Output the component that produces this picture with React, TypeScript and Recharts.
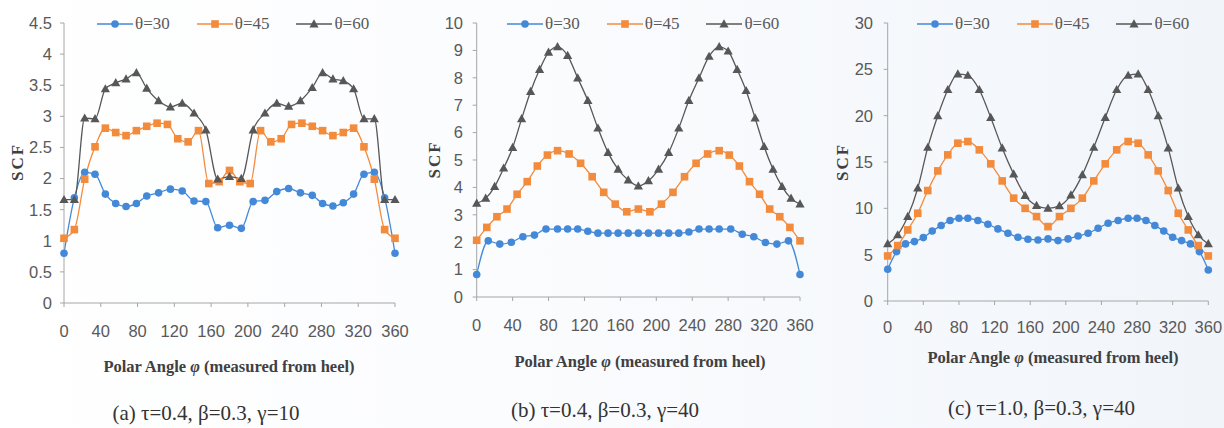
import React from "react";
import { LineChart, Line, XAxis, YAxis, Legend } from "recharts";

// polar angle sampling (deg); the three series were not all sampled on the same spacing
const ANGLES_A = [
  0, 11.25, 22.5, 33.75, 45, 56.25, 67.5, 78.75, 90, 102.86, 115.71, 128.57, 141.43, 154.29, 167.14,
  180, 192.86, 205.71, 218.57, 231.43, 244.29, 257.14, 270, 281.25, 292.5, 303.75, 315, 326.25, 337.5,
  348.75, 360,
];
const ANGLES_B = [
  0, 11.25, 22.5, 33.75, 45, 56.25, 67.5, 78.75, 90, 101.25, 112.5, 123.75, 135, 146.25, 157.5, 168.75,
  180, 191.25, 202.5, 213.75, 225, 236.25, 247.5, 258.75, 270, 281.25, 292.5, 303.75, 315, 326.25,
  337.5, 348.75, 360,
];
const ANGLES_C = [
  0, 10, 20, 30, 40, 50, 60, 70, 80, 90, 101.25, 112.5, 123.75, 135, 146.25, 157.5, 168.75, 180,
  191.25, 202.5, 213.75, 225, 236.25, 247.5, 258.75, 270, 280, 290, 300, 310, 320, 330, 340, 350, 360,
];
const ANGLES_D = [
  0, 12.86, 25.71, 38.57, 51.43, 64.29, 77.14, 90, 101.25, 112.5, 123.75, 135, 146.25, 157.5, 168.75,
  180, 191.25, 202.5, 213.75, 225, 236.25, 247.5, 258.75, 270, 282.86, 295.71, 308.57, 321.43, 334.29,
  347.14, 360,
];

const X_TICKS = [0, 40, 80, 120, 160, 200, 240, 280, 320, 360];
const Y_TICKS_A = [0, 0.5, 1, 1.5, 2, 2.5, 3, 3.5, 4, 4.5];
const Y_TICKS_B = [0, 1, 2, 3, 4, 5, 6, 7, 8, 9, 10];
const Y_TICKS_C = [0, 5, 10, 15, 20, 25, 30];

const SERIES_NAMES = ["θ=30", "θ=45", "θ=60"];
const CAPTIONS = ["(a) τ=0.4, β=0.3, γ=10", "(b) τ=0.4, β=0.3, γ=40", "(c) τ=1.0, β=0.3, γ=40"];

// (a) tau=0.4, gamma=10
const A_T30 = [
  0.8, 1.69, 2.1, 2.07, 1.75, 1.6, 1.55, 1.6, 1.72, 1.77, 1.83, 1.8, 1.64, 1.63, 1.21, 1.25, 1.2, 1.63,
  1.65, 1.79, 1.84, 1.77, 1.73, 1.6, 1.56, 1.61, 1.75, 2.07, 2.1, 1.69, 0.8,
];
const A_T45 = [
  1.04, 1.18, 1.99, 2.51, 2.81, 2.74, 2.69, 2.77, 2.84, 2.89, 2.87, 2.64, 2.59, 2.77, 1.92, 1.95, 2.13,
  1.95, 1.92, 2.77, 2.59, 2.64, 2.87, 2.89, 2.84, 2.77, 2.69, 2.74, 2.81, 2.51, 1.99, 1.18, 1.04,
];
const A_T60 = [
  1.66, 1.66, 2.97, 2.96, 3.44, 3.54, 3.6, 3.7, 3.45, 3.25, 3.15, 3.21, 3.05, 2.78, 1.99, 2.03, 2.0,
  2.78, 3.05, 3.21, 3.16, 3.25, 3.46, 3.7, 3.6, 3.57, 3.44, 2.96, 2.96, 1.66, 1.66,
];

// (b) tau=0.4, gamma=40
const B_T30 = [
  0.82, 2.05, 1.93, 2.0, 2.2, 2.26, 2.48, 2.48, 2.48, 2.48, 2.4, 2.33, 2.33, 2.33, 2.33, 2.33, 2.33,
  2.33, 2.33, 2.33, 2.37, 2.48, 2.48, 2.48, 2.48, 2.29, 2.2, 1.99, 1.93, 2.05, 0.82,
];
const B_T45 = [
  2.07, 2.54, 2.93, 3.21, 3.75, 4.21, 4.78, 5.18, 5.34, 5.22, 4.88, 4.39, 3.82, 3.39, 3.11, 3.21, 3.11,
  3.39, 3.82, 4.39, 4.88, 5.22, 5.34, 5.18, 4.78, 4.21, 3.75, 3.21, 2.93, 2.54, 2.05,
];
const B_T60 = [
  3.42, 3.6, 4.03, 4.7, 5.45, 6.5, 7.5, 8.3, 8.93, 9.13, 8.81, 7.99, 7.17, 6.16, 5.27, 4.66, 4.27, 4.05,
  4.24, 4.66, 5.27, 6.16, 7.17, 7.99, 8.78, 9.13, 8.97, 8.3, 7.53, 6.53, 5.49, 4.66, 4.03, 3.6, 3.39,
];

// (c) tau=1.0, gamma=40
const C_T30 = [
  3.42, 5.33, 6.16, 6.41, 6.84, 7.56, 8.14, 8.68, 8.93, 8.93, 8.68, 8.28, 7.78, 7.31, 6.88, 6.67, 6.59,
  6.7, 6.52, 6.7, 7.02, 7.31, 7.85, 8.39, 8.68, 8.93, 8.93, 8.68, 8.14, 7.56, 6.88, 6.52, 6.16, 5.33, 3.35,
];
const C_T45 = [
  4.86, 5.98, 7.67, 9.47, 11.92, 14.04, 15.77, 17.03, 17.21, 16.31, 14.8, 12.96, 11.1, 10.0, 9.11, 8.03,
  9.11, 10.0, 11.1, 12.96, 14.8, 16.31, 17.21, 17.03, 15.77, 14.04, 11.92, 9.47, 7.67, 5.98, 4.86,
];
const C_T60 = [
  6.16, 7.13, 9.11, 12.17, 16.57, 19.99, 22.8, 24.49, 24.34, 22.8, 19.8, 16.5, 13.69, 11.38, 10.3, 10.0,
  10.26, 11.42, 13.61, 16.57, 19.8, 22.8, 24.34, 24.49, 22.8, 19.99, 16.5, 12.17, 9.11, 7.13, 6.16,
];

const BLUE = "#4389d8";
const ORANGE = "#f38b3c";
const DARK = "#575757";
const AXIS = "#a6a6a6";
const TICK_TEXT = "#595959";
const SANS = "'Liberation Sans', Arial, sans-serif";
const SERIF = "'Liberation Serif', 'Times New Roman', serif";

const STYLES = [
  { color: BLUE, shape: "circle" },
  { color: ORANGE, shape: "square" },
  { color: DARK, shape: "triangle" },
];

const zip = (xs: number[], ys: number[]) => xs.map((x, i) => ({ x, y: ys[i] }));

function marker(shape: string, cx: number, cy: number, color: string, key?: any) {
  if (shape === "circle") return <circle key={key} cx={cx} cy={cy} r={3.8} fill={color} />;
  if (shape === "square")
    return <rect key={key} x={cx - 3.8} y={cy - 3.8} width={7.6} height={7.6} fill={color} />;
  return (
    <polygon
      key={key}
      points={`${cx},${cy - 4.8} ${cx - 4.6},${cy + 3.4} ${cx + 4.6},${cy + 3.4}`}
      fill={color}
    />
  );
}

const CHART_H = 380;

const PANELS = [
  {
    left: 0, width: 410, plot: { l: 64, r: 395, t: 23, b: 303 },
    yMax: 4.5, yTicks: Y_TICKS_A, yMargin: 8, xMargin: 18,
    scf: { x: 17.5, y: 162 }, titleY: 366, titleX: 229, captionX: 206, captionY: 413,
    series: [zip(ANGLES_A, A_T30), zip(ANGLES_B, A_T45), zip(ANGLES_A, A_T60)],
  },
  {
    left: 410, width: 410, plot: { l: 66.7, r: 390, t: 23, b: 297 },
    yMax: 10, yTicks: Y_TICKS_B, yMargin: 9.7, xMargin: 18,
    scf: { x: 24, y: 159.5 }, titleY: 361, titleX: 230, captionX: 195, captionY: 410,
    series: [zip(ANGLES_D, B_T30), zip(ANGLES_A, B_T45), zip(ANGLES_C, B_T60)],
  },
  {
    left: 820, width: 404, plot: { l: 67.7, r: 388.3, t: 23, b: 301 },
    yMax: 30, yTicks: Y_TICKS_C, yMargin: 10.7, xMargin: 16,
    scf: { x: 22, y: 162 }, titleY: 357, titleX: 233, captionX: 221.5, captionY: 408,
    series: [zip(ANGLES_C, C_T30), zip(ANGLES_A, C_T45), zip(ANGLES_A, C_T60)],
  },
];

const renderLegend = () => (
  <div
    style={{
      display: "flex",
      alignItems: "center",
      fontFamily: SERIF,
      fontSize: 17,
      color: TICK_TEXT,
      lineHeight: "18px",
      whiteSpace: "nowrap",
    }}
  >
    {SERIES_NAMES.map((name, i) => (
      <div key={name} style={{ display: "flex", alignItems: "center", marginRight: 27 }}>
        <svg width={36} height={12} style={{ display: "block" }}>
          <line x1={0} y1={6} x2={36} y2={6} stroke={STYLES[i].color} strokeWidth={1.3} />
          {marker(STYLES[i].shape, 18, 6, STYLES[i].color)}
        </svg>
        <span style={{ marginLeft: 2 }}>{name}</span>
      </div>
    ))}
  </div>
);

function Panel({ cfg, caption }: { cfg: (typeof PANELS)[number]; caption: string }) {
  const { plot } = cfg;
  return (
    <div style={{ position: "absolute", left: cfg.left, top: 0, width: cfg.width, height: 428 }}>
      <LineChart
        width={cfg.width}
        height={CHART_H}
        margin={{ top: plot.t, right: cfg.width - plot.r, bottom: 0, left: 0 }}
      >
        <XAxis
          dataKey="x"
          type="number"
          domain={[0, 360]}
          ticks={X_TICKS}
          interval={0}
          height={CHART_H - plot.b}
          stroke={AXIS}
          tickSize={4}
          tickMargin={cfg.xMargin}
          tick={{ fill: TICK_TEXT, fontSize: 16.5, fontFamily: SANS }}
          label={() => (
            <text
              x={cfg.titleX}
              y={cfg.titleY}
              textAnchor="middle"
              dominantBaseline="central"
              fontFamily={SERIF}
              fontWeight="bold"
              fontSize={16.5}
              fill="#404040"
            >
              Polar Angle <tspan fontStyle="italic">φ</tspan>
              {"  (measured from heel)"}
            </text>
          )}
        />
        <YAxis
          type="number"
          domain={[0, cfg.yMax]}
          ticks={cfg.yTicks}
          interval={0}
          width={plot.l}
          stroke={AXIS}
          tickSize={4}
          tickMargin={cfg.yMargin}
          tick={{ fill: TICK_TEXT, fontSize: 16.5, fontFamily: SANS }}
          label={() => (
            <text
              x={cfg.scf.x}
              y={cfg.scf.y}
              transform={`rotate(-90 ${cfg.scf.x} ${cfg.scf.y})`}
              textAnchor="middle"
              dominantBaseline="central"
              fontFamily={SERIF}
              fontWeight="bold"
              fontSize={17}
              letterSpacing={2}
              fill="#404040"
            >
              SCF
            </text>
          )}
        />
        <Legend
          layout="horizontal"
          verticalAlign="middle"
          align="center"
          content={renderLegend}
          wrapperStyle={{ top: 15, left: 97, width: 320, height: 18 }}
        />
        {cfg.series.map((data, i) => (
          <Line
            key={SERIES_NAMES[i]}
            name={SERIES_NAMES[i]}
            data={data}
            dataKey="y"
            type="monotone"
            stroke={STYLES[i].color}
            strokeWidth={1.3}
            dot={(p: any) =>
              p.cx == null || p.cy == null
                ? null
                : marker(STYLES[i].shape, p.cx, p.cy, STYLES[i].color, p.key ?? p.index)
            }
            activeDot={false}
            isAnimationActive={false}
          />
        ))}
      </LineChart>
      <div
        style={{
          position: "absolute",
          left: cfg.captionX,
          top: cfg.captionY - 12,
          transform: "translateX(-50%)",
          fontFamily: SERIF,
          fontSize: 21,
          lineHeight: "24px",
          color: "#333",
          whiteSpace: "nowrap",
        }}
      >
        {caption}
      </div>
    </div>
  );
}

export default function App() {
  return (
    <div
      style={{
        position: "absolute",
        left: 0,
        top: 0,
        width: 1224,
        height: 428,
        overflow: "hidden",
        background: "linear-gradient(90deg, #ffffff 0%, #fbfcfe 40%, #f1f5fa 100%)",
      }}
    >
      {PANELS.map((cfg, i) => (
        <Panel key={i} cfg={cfg} caption={CAPTIONS[i]} />
      ))}
    </div>
  );
}
